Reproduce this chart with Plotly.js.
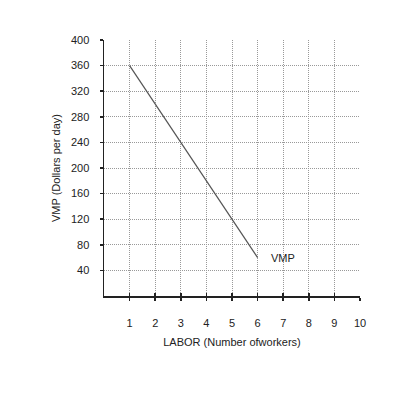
<!DOCTYPE html>
<html><head><meta charset="utf-8">
<script src="https://cdn.plot.ly/plotly-3.0.1.min.js"></script>
<style>html,body{margin:0;padding:0;background:#fff}#c{width:400px;height:400px}</style>
</head><body><div id="c"></div>
<script>
var labor = [1, 6];
var vmp = [360, 60];
var xTicks = [1,2,3,4,5,6,7,8,9,10];
var yTicks = [40,80,120,160,200,240,280,320,360,400];
var lineLabel = "VMP";
var labelX = 7;
var labelY = 60;

var font = {family: "Liberation Sans, Arial, sans-serif", size: 11, color: "#222"};
var data = [{x: labor, y: vmp, type: "scatter", mode: "lines", line: {color: "#555", width: 1.2}, hoverinfo: "skip", showlegend: false}];
var layout = {
  width: 400, height: 400,
  margin: {l: 104, r: 40, t: 40, b: 104},
  paper_bgcolor: "#fff", plot_bgcolor: "#fff",
  font: font,
  showlegend: false,
  xaxis: {range: [0, 10], tickvals: xTicks, ticktext: xTicks.map(String), showgrid: true, gridcolor: "#999", griddash: "1px,1px", gridwidth: 1,
    showline: true, linecolor: "#222", linewidth: 1.5, ticks: "outside", ticklen: 3, tickcolor: "#222", tickwidth: 1.5,
    ticklabelstandoff: 13, zeroline: false, fixedrange: true,
    title: {text: "LABOR (Number ofworkers)", font: font, standoff: 10}},
  xaxis2: {range: [0, 10], overlaying: "x", anchor: "y", tickvals: xTicks, showticklabels: false, showgrid: false, zeroline: false, ticks: "inside", ticklen: 3, tickcolor: "#222", tickwidth: 1.5, showline: false},
  yaxis: {range: [0, 400], tickvals: yTicks, ticktext: yTicks.map(String), showgrid: true, gridcolor: "#999", griddash: "1px,1px", gridwidth: 1,
    showline: true, linecolor: "#222", linewidth: 1.5, ticks: "outside", ticklen: 3, tickcolor: "#222", tickwidth: 1.5,
    ticklabelstandoff: 8, zeroline: false, fixedrange: true,
    title: {text: "VMP (Dollars per day)", font: font, standoff: 8}},
  annotations: [{x: labelX, y: labelY, xref: "x", yref: "y", text: lineLabel, showarrow: false, font: font}]
};
data.push({x: [0], y: [0], xaxis: "x2", yaxis: "y", mode: "markers", marker: {opacity: 0}, hoverinfo: "skip", showlegend: false});
Plotly.newPlot("c", data, layout, {staticPlot: true, displayModeBar: false});
</script></body></html>
